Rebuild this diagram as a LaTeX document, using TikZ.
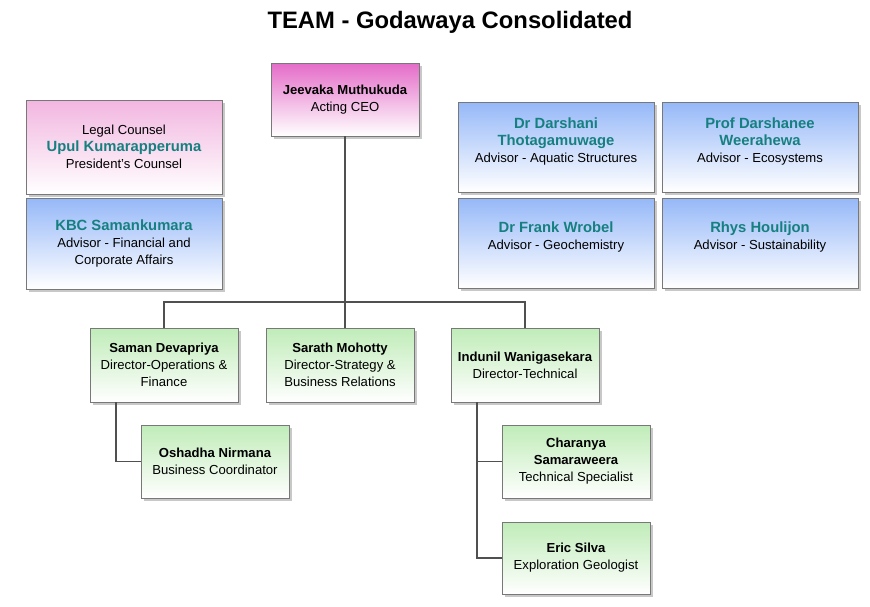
\documentclass[tikz,border=0pt]{standalone}
\usepackage{fontspec}
\setmainfont{Liberation Sans}
\usetikzlibrary{shadows,calc}
\definecolor{tealname}{RGB}{22,128,128}
\definecolor{ceotop}{RGB}{228,108,200}
\definecolor{pinktop}{RGB}{242,182,224}
\definecolor{bluetop}{RGB}{150,184,248}
\definecolor{greentop}{RGB}{192,236,184}
\definecolor{edge}{RGB}{120,120,120}
\definecolor{conncol}{RGB}{80,80,80}
\newcommand\nm[1]{{\bfseries #1}}
\newcommand\tn[1]{{\fontsize{14.8}{18.5}\selectfont\bfseries\color{tealname}#1}}
\begin{document}
\begin{tikzpicture}[x=1pt,y=-1pt,
  box/.style={draw=edge, line width=0.8pt, inner sep=0pt, outer sep=0pt,
    anchor=north west, align=center, font=\fontsize{13.1}{17}\selectfont,
    drop shadow={shadow xshift=2.5pt, shadow yshift=-2.5pt, fill=black!30, opacity=0.7}},
  ceofill/.style={top color=ceotop, bottom color=white},
  pinkfill/.style={top color=pinktop, bottom color=white},
  bluefill/.style={top color=bluetop, bottom color=white},
  greenfill/.style={top color=greentop, bottom color=white},
  conn/.style={draw=conncol, line width=1.2pt},
  titletext/.style={font=\fontsize{23.8}{28}\selectfont\bfseries}
]
\useasboundingbox (0,0) rectangle (870,606);
\fill[white] (0,0) rectangle (870,606);

\node[titletext] (title) at (450,22) {TEAM - Godawaya Consolidated};

\node[box,ceofill,minimum width=148pt,minimum height=73pt] (ceo) at (271,63) {\nm{Jeevaka Muthukuda}\\Acting CEO};

\node[box,pinkfill,minimum width=196pt,minimum height=94pt] (legal) at (26,100) {Legal Counsel\\\tn{Upul Kumarapperuma}\\President's Counsel};
\node[box,bluefill,minimum width=196pt,minimum height=91pt] (kbc) at (26,198) {\tn{KBC Samankumara}\\Advisor - Financial and\\Corporate Affairs};

\node[box,bluefill,minimum width=196pt,minimum height=90pt] (darshani) at (458,102) {\tn{Dr Darshani}\\\tn{Thotagamuwage}\\Advisor - Aquatic Structures\\[-3pt]\mbox{}};
\node[box,bluefill,minimum width=196pt,minimum height=90pt] (darshanee) at (662,102) {\tn{Prof Darshanee}\\\tn{Weerahewa}\\Advisor - Ecosystems\\[-3pt]\mbox{}};
\node[box,bluefill,minimum width=196pt,minimum height=90pt] (frank) at (458,198) {\tn{Dr Frank Wrobel}\\Advisor - Geochemistry\\[-3pt]\mbox{}};
\node[box,bluefill,minimum width=196pt,minimum height=90pt] (rhys) at (662,198) {\tn{Rhys Houlijon}\\Advisor - Sustainability\\[-3pt]\mbox{}};

\node[box,greenfill,minimum width=148pt,minimum height=74pt] (saman) at (90,328) {\nm{Saman Devapriya}\\Director-Operations \&\\Finance};
\node[box,greenfill,minimum width=148pt,minimum height=74pt] (sarath) at (266,328) {\nm{Sarath Mohotty}\\Director-Strategy \&\\Business Relations};
\node[box,greenfill,minimum width=148pt,minimum height=74pt] (indunil) at (451,328) {\nm{Indunil Wanigasekara}\\Director-Technical};

\node[box,greenfill,minimum width=148pt,minimum height=73pt] (oshadha) at (141,425) {\nm{Oshadha Nirmana}\\Business Coordinator};
\node[box,greenfill,minimum width=148pt,minimum height=73pt] (charanya) at (502,425) {\nm{Charanya}\\\nm{Samaraweera}\\Technical Specialist};
\node[box,greenfill,minimum width=148pt,minimum height=72pt] (eric) at (502,522) {\nm{Eric Silva}\\Exploration Geologist};

\coordinate (bus) at (345,302);
\draw[conn] (ceo.south) -- (ceo.south |- sarath.north);
\draw[conn] (saman.north) |- (bus) -| (indunil.north);
\coordinate (samanstem) at ($(saman.south west)+(26,0)$);
\coordinate (indstem) at ($(indunil.south west)+(26,0)$);
\draw[conn] (samanstem) |- (oshadha.west);
\draw[conn] (indstem) |- (eric.west);
\draw[conn] (indstem) |- (charanya.west);
\end{tikzpicture}
\end{document}
